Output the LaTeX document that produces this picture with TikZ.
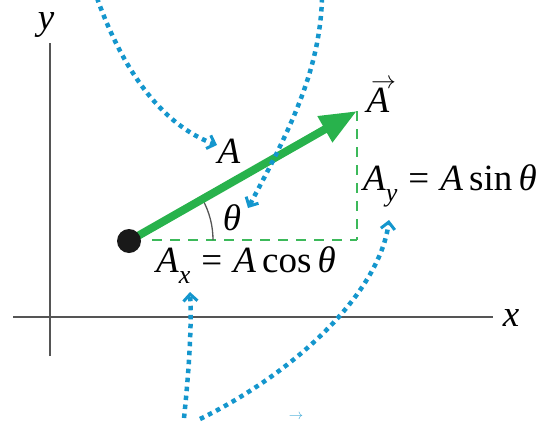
\documentclass[tikz,border=0pt]{standalone}
\usepackage{fontspec}
\setmainfont{Liberation Serif}
\usetikzlibrary{arrows.meta}
\definecolor{vgreen}{RGB}{40,178,76}
\definecolor{dgreen}{RGB}{60,185,90}
\definecolor{dotblue}{RGB}{20,150,205}
\definecolor{axgray}{RGB}{85,85,85}
\newcommand{\ivar}[1]{{\itshape #1}}
\newcommand{\isub}[1]{\raisebox{-0.28em}{\fontsize{26}{28}\selectfont\itshape #1}}
\newcommand{\eqs}{\hspace{0.3em}=\hspace{0.3em}}
\newcommand{\vecarrow}{\rlap{\hspace{0.12em}\raisebox{0.64em}[0pt][0pt]{\fontsize{24}{24}\selectfont$\rightarrow$}}}
\tikzset{
  lbl/.style={inner sep=0pt,font=\fontsize{37}{42}\selectfont},
  axisline/.style={draw=axgray,line width=1.6pt},
  compline/.style={draw=dgreen,line width=1.6pt,dash pattern=on 10pt off 8pt},
  dotline/.style={draw=dotblue,line width=4.5pt,dash pattern=on 4.5pt off 4.5pt,
     -{Straight Barb[length=7pt,width=14pt,line width=3pt]}},
}
\begin{document}
\begin{tikzpicture}[x=1pt,y=-1pt]
\useasboundingbox (0,0) rectangle (540,423);
% axes
\coordinate (yb) at (50,356);
\coordinate (yt) at (50,43);
\coordinate (xl) at (13,317);
\coordinate (xr) at (493,317);
\draw[axisline] (yb) -- (yt);
\draw[axisline] (xl) -- (xr);
\node[lbl] (ylab) at (46,25) {\ivar{y}};
\node[lbl] (xlab) at (511,318) {\ivar{x}};
% components
\coordinate (O) at (129,241);
\coordinate (T) at (357,111);
\coordinate (C) at (357,240);
\coordinate (H0) at (152,240);
\draw[compline] (H0) -- (C);
\draw[compline] (T) -- (C);
% angle arc
\draw[axgray,line width=1.3pt] (213,240) arc[start angle=0,end angle=-28.5,radius=84];
% vector
\draw[vgreen,line width=8pt,-{Triangle[length=37pt,width=28pt]}] (O) -- (T);
\node[circle,fill=black!90,minimum size=24pt,inner sep=0pt] (dot) at (O) {};
% labels
\node[lbl] (Alab) at (229,151) {\ivar{A}};
\node[lbl] (vecA) at (378,100) {\vecarrow\ivar{A}};
\node[lbl] (th) at (232,218) {\ivar{θ}};
\node[lbl,anchor=west] (Ax) at (156,265) {\ivar{A}\isub{x}\eqs\ivar{A}\,cos\,\ivar{θ}};
\node[lbl,anchor=west] (Ay) at (363,186) {\ivar{A}\isub{y}\eqs\ivar{A}\,sin\,\ivar{θ}};
% dotted pointers
\coordinate (p1s) at (97,-2);
\coordinate (p1e) at (217,145);
\draw[dotline] (p1s) .. controls (130,90) and (175,130) .. (p1e);
\coordinate (p2s) at (322,-2);
\coordinate (p2e) at (248,208);
\draw[dotline] (p2s) .. controls (320,70) and (290,130) .. (p2e);
\coordinate (p3s) at (184,418);
\coordinate (p3e) at (190,292);
\draw[dotline] (p3s) .. controls (188,380) and (192,330) .. (p3e);
\coordinate (p4s) at (200,419);
\coordinate (p4e) at (389,220);
\draw[dotline] (p4s) .. controls (300,370) and (380,290) .. (p4e);
\node[inner sep=0pt,text=dotblue!80,font=\fontsize{15}{16}\selectfont] (arr) at (296,417) {$\rightarrow$};
\end{tikzpicture}
\end{document}
